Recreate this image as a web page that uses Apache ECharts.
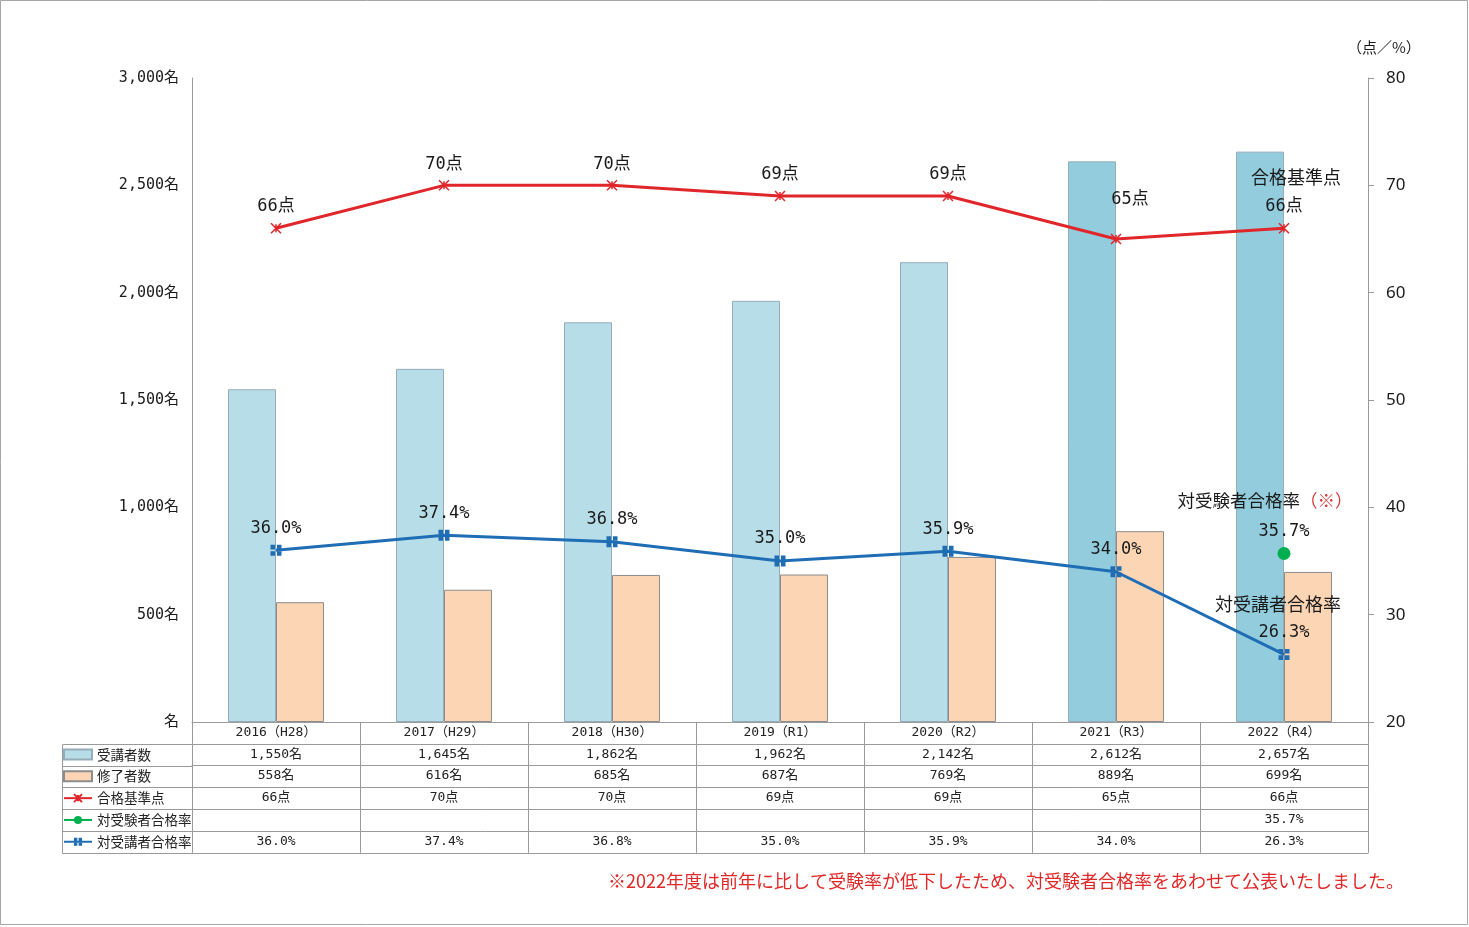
<!DOCTYPE html>
<html><head><meta charset="utf-8">
<script src="https://cdn.jsdelivr.net/npm/echarts@6/dist/echarts.min.js"></script>
<style>html,body{margin:0;padding:0;background:#fff}#c{width:1469px;height:927px}</style>
</head><body><div id="c"></div>
<script>
// ---- data ----
const categories = ['2016（H28）','2017（H29）','2018（H30）','2019（R1）','2020（R2）','2021（R3）','2022（R4）'];
const recipients = [1550, 1645, 1862, 1962, 2142, 2612, 2657];
const completers = [558, 616, 685, 687, 769, 889, 699];
const passMarks = [66, 70, 70, 69, 69, 65, 66];
const examineeRates = [null, null, null, null, null, null, 35.7];
const recipientRates = [36.0, 37.4, 36.8, 35.0, 35.9, 34.0, 26.3];
const seriesNames = ['受講者数', '修了者数', '合格基準点', '対受験者合格率', '対受講者合格率'];
const darkBarYears = ['2021（R3）', '2022（R4）'];
const leftTicks = [0, 500, 1000, 1500, 2000, 2500, 3000];
const rightTicks = [20, 30, 40, 50, 60, 70, 80];
const axisUnit = '（点／%）';
const footnote = '※2022年度は前年に比して受験率が低下したため、対受験者合格率をあわせて公表いたしました。';

// ---- styling ----
const CJK = "'Noto Sans CJK JP'";
const MONO = "'DejaVu Sans Mono','Noto Sans CJK JP'";
const RED = '#e0262a', BLUE = '#1f6db4', GREEN = '#00b050';
const BAR_BLUE = '#b7dde8', BAR_BLUE_DARK = '#93cddd', BAR_ORANGE = '#fcd5b5';
const GRID_C = '#9a9a9a';
const ROW = 21.8;
const PLOT_BOTTOM = 722, TABLE_LEFT = 62, PLOT_LEFT = 192;
const last = categories.length - 1;

const fmtInt = v => v.toLocaleString('en-US');
const tableRows = [
  { vals: recipients, fmt: v => fmtInt(v) + '名' },
  { vals: completers, fmt: v => fmtInt(v) + '名' },
  { vals: passMarks, fmt: v => v + '点' },
  { vals: examineeRates, fmt: v => v == null ? '' : v.toFixed(1) + '%' },
  { vals: recipientRates, fmt: v => v == null ? '' : v.toFixed(1) + '%' }
];

const baseX = {
  type: 'category', data: categories, gridIndex: 0, position: 'bottom', boundaryGap: true,
  axisLine: { show: true, lineStyle: { color: GRID_C, width: 1 } },
  axisTick: { show: true, length: ROW, interval: 0, lineStyle: { color: GRID_C, width: 1 } },
  axisLabel: { interval: 0, margin: 4, fontSize: 13, fontFamily: MONO, color: '#222' },
  splitLine: { show: false }
};
const xAxes = [Object.assign({}, baseX, { offset: 0 })];
tableRows.forEach((r, k) => {
  xAxes.push(Object.assign({}, baseX, {
    offset: (k + 1) * ROW,
    axisLabel: Object.assign({}, baseX.axisLabel, { formatter: (val, idx) => r.fmt(r.vals[idx]) })
  }));
});
xAxes.push(Object.assign({}, baseX, { offset: 6 * ROW, axisTick: { show: false }, axisLabel: { show: false } }));

const legends = seriesNames.map((n, i) => ({
  data: [n], left: TABLE_LEFT + 1, top: PLOT_BOTTOM + (i + 1) * ROW + 4, padding: 0,
  itemWidth: 28, itemHeight: 10, selectedMode: false,
  textStyle: { fontSize: 13.5, fontFamily: CJK, color: '#222' }
}));
legends[0].icon = 'rect'; legends[1].icon = 'rect';

const tableLines = [];
for (let k = 1; k <= 6; k++) {
  const y = Math.round(PLOT_BOTTOM + k * ROW) + 0.5;
  tableLines.push({ type: 'line', shape: { x1: TABLE_LEFT + 0.5, y1: y, x2: PLOT_LEFT, y2: y }, style: { stroke: GRID_C, lineWidth: 1 } });
}
tableLines.push({ type: 'line', shape: { x1: TABLE_LEFT + 0.5, y1: Math.round(PLOT_BOTTOM + ROW) + 0.5, x2: TABLE_LEFT + 0.5, y2: Math.round(PLOT_BOTTOM + 6 * ROW) + 0.5 }, style: { stroke: GRID_C, lineWidth: 1 } });

const labelBase = { show: true, position: 'top', fontSize: 17, fontFamily: MONO, color: '#1a1a1a' };

const chart = echarts.init(document.getElementById('c'), null, { renderer: 'canvas' });
chart.setOption({
  animation: false,
  backgroundColor: '#fff',
  grid: { left: PLOT_LEFT, right: 1469 - 1368, top: 78, bottom: 927 - PLOT_BOTTOM, containLabel: false },
  legend: legends,
  xAxis: xAxes,
  yAxis: [
    {
      type: 'value', min: leftTicks[0], max: leftTicks[leftTicks.length - 1], interval: leftTicks[1] - leftTicks[0],
      axisLine: { show: true, lineStyle: { color: GRID_C } }, axisTick: { show: false }, splitLine: { show: false },
      axisLabel: { margin: 13, fontSize: 15, fontFamily: MONO, color: '#1a1a1a', formatter: v => v === 0 ? '名' : fmtInt(v) + '名' }
    },
    {
      type: 'value', position: 'right', min: rightTicks[0], max: rightTicks[rightTicks.length - 1], interval: rightTicks[1] - rightTicks[0],
      axisLine: { show: true, lineStyle: { color: GRID_C } },
      axisTick: { show: true, length: 6, lineStyle: { color: GRID_C } }, splitLine: { show: false },
      axisLabel: { margin: 18, fontSize: 17, fontFamily: "'Noto Sans'", color: '#1a1a1a' }
    }
  ],
  graphic: [
    { type: 'rect', shape: { x: 0.5, y: 0.5, width: 1467, height: 924 }, style: { fill: null, stroke: '#a6a6a6', lineWidth: 1 }, silent: true },
    { type: 'text', left: 1347, top: 40, style: { text: axisUnit, fontSize: 15, fontFamily: CJK, fill: '#1a1a1a' } },
    { type: 'text', right: 1469 - 1404, top: 872, style: { text: footnote, fontSize: 18, fontFamily: CJK, fill: '#e02828' } }
  ].concat(tableLines),
  series: [
    {
      name: seriesNames[0], type: 'bar', barWidth: 48, barGap: '0%', yAxisIndex: 0,
      itemStyle: { color: BAR_BLUE, borderColor: '#95adb8', borderWidth: 1 },
      data: recipients.map((v, i) => darkBarYears.includes(categories[i]) ? { value: v, itemStyle: { color: BAR_BLUE_DARK } } : v)
    },
    {
      name: seriesNames[1], type: 'bar', barWidth: 48, barGap: '0%', yAxisIndex: 0,
      itemStyle: { color: BAR_ORANGE, borderColor: '#8c8c8c', borderWidth: 1 },
      data: completers
    },
    {
      name: seriesNames[2], type: 'line', yAxisIndex: 1, smooth: false, z: 5,
      symbol: 'path://M0,0L10,10M10,0L0,10M5,1L5,9', symbolSize: 10,
      lineStyle: { color: RED, width: 3 },
      itemStyle: { color: RED, borderColor: RED, borderWidth: 1.5 },
      label: Object.assign({}, labelBase, {
        distance: 7,
        formatter: p => p.dataIndex === last ? `{n|${p.seriesName}}\n{v|${p.value}点}` : p.value + '点',
        rich: {
          n: { fontFamily: CJK, fontSize: 18, color: '#1a1a1a', lineHeight: 40, padding: [0, 0, 0, 24] },
          v: { fontFamily: MONO, fontSize: 17, color: '#1a1a1a', lineHeight: 18 }
        }
      }),
      data: passMarks.map((v, i) => i === 5 ? { value: v, label: { offset: [14, -18] } } : v)
    },
    {
      name: seriesNames[3], type: 'line', yAxisIndex: 1, z: 6,
      symbol: 'circle', symbolSize: 13,
      lineStyle: { color: GREEN, width: 3 },
      itemStyle: { color: GREEN, borderWidth: 0 },
      label: Object.assign({}, labelBase, {
        distance: 7,
        formatter: p => `{n|${p.seriesName}}{m|（※）}\n{v|${p.value.toFixed(1)}%}`,
        rich: {
          n: { fontFamily: CJK, fontSize: 17.5, color: '#1a1a1a', lineHeight: 46 },
          m: { fontFamily: CJK, fontSize: 17.5, color: '#d33c3c', lineHeight: 46, padding: [0, 38, 0, 0] },
          v: { fontFamily: MONO, fontSize: 17, color: '#1a1a1a', lineHeight: 17 }
        }
      }),
      data: examineeRates
    },
    {
      name: seriesNames[4], type: 'line', yAxisIndex: 1, z: 5,
      symbol: 'path://M0,0H4.2V4.2H0Z M5.8,0H10V4.2H5.8Z M0,5.8H4.2V10H0Z M5.8,5.8H10V10H5.8Z', symbolSize: 11,
      lineStyle: { color: BLUE, width: 3 },
      itemStyle: { color: BLUE, borderWidth: 0 },
      label: Object.assign({}, labelBase, {
        distance: 8,
        formatter: p => p.dataIndex === last ? `{n|${p.seriesName}}\n{v|${p.value.toFixed(1)}%}` : p.value.toFixed(1) + '%',
        rich: {
          n: { fontFamily: CJK, fontSize: 18, color: '#1a1a1a', lineHeight: 39, padding: [0, 12, 0, 0] },
          v: { fontFamily: MONO, fontSize: 17, color: '#1a1a1a', lineHeight: 17 }
        }
      }),
      data: recipientRates
    }
  ]
});
</script>
</body></html>
